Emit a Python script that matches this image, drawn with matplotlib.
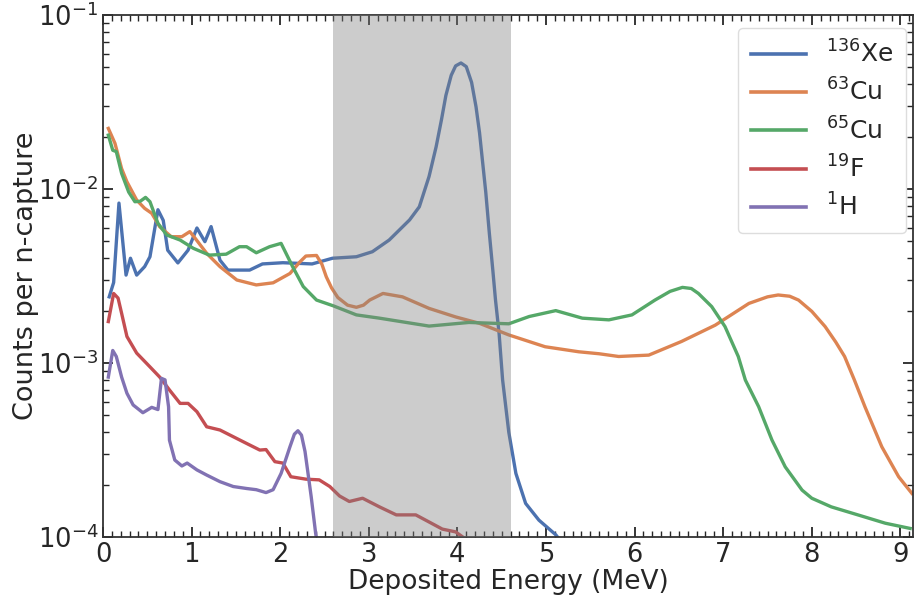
""" Neutron capture deposited energy spectra. """

import numpy as np
import matplotlib
matplotlib.use('Agg')
import matplotlib.pyplot as plt

# 136Xe
xe_e = [0.07, 0.12, 0.18, 0.26, 0.31, 0.38, 0.47, 0.53, 0.62, 0.68, 0.73, 0.845,
        0.96, 1.06, 1.15, 1.22, 1.32, 1.41, 1.655, 1.80, 2.03, 2.36, 2.59, 2.86,
        3.04, 3.23, 3.46, 3.57, 3.68, 3.76, 3.82, 3.87, 3.93, 3.98, 4.04, 4.10,
        4.16, 4.21, 4.25, 4.28, 4.32, 4.36, 4.40, 4.43, 4.47, 4.51, 4.58, 4.66,
        4.77, 4.92, 5.11, 5.20]
xe_c = [2.4e-3, 2.9e-3, 8.3e-3, 3.2e-3, 4.0e-3, 3.2e-3, 3.58e-3, 4.08e-3, 7.6e-3,
        6.6e-3, 4.45e-3, 3.76e-3, 4.45e-3, 5.97e-3, 4.98e-3, 6.08e-3, 3.9e-3,
        3.42e-3, 3.42e-3, 3.71e-3, 3.77e-3, 3.71e-3, 4.0e-3, 4.08e-3, 4.36e-3,
        5.09e-3, 6.64e-3, 7.9e-3, 1.18e-2, 1.75e-2, 2.5e-2, 3.45e-2, 4.5e-2,
        5.1e-2, 5.3e-2, 5.05e-2, 4.1e-2, 2.97e-2, 2.1e-2, 1.5e-2, 9.6e-3,
        5.6e-3, 3.4e-3, 2.3e-3, 1.49e-3, 8.0e-4, 4.0e-4, 2.32e-4, 1.56e-4,
        1.25e-4, 1.03e-4, 9.0e-5]

# 63Cu
cu63_e = [0.06, 0.135, 0.21, 0.27, 0.38, 0.47, 0.55, 0.64, 0.77, 0.89, 0.98, 1.04,
          1.17, 1.32, 1.51, 1.73, 1.92, 2.11, 2.22, 2.29, 2.41, 2.47, 2.52, 2.58,
          2.65, 2.76, 2.86, 2.94, 3.01, 3.16, 3.38, 3.68, 3.98, 4.25, 4.58, 4.99,
          5.37, 5.60, 5.82, 6.16, 6.53, 6.91, 7.29, 7.50, 7.62, 7.75, 7.85, 8.00,
          8.15, 8.27, 8.37, 8.48, 8.60, 8.79, 8.98, 9.13]
cu63_c = [2.23e-2, 1.83e-2, 1.31e-2, 1.1e-2, 8.64e-3, 7.74e-3, 7.25e-3, 6.07e-3,
          5.32e-3, 5.32e-3, 5.69e-3, 5.21e-3, 4.27e-3, 3.58e-3, 3.0e-3, 2.81e-3,
          2.89e-3, 3.27e-3, 3.8e-3, 4.12e-3, 4.15e-3, 3.7e-3, 3.13e-3, 2.7e-3,
          2.38e-3, 2.15e-3, 2.09e-3, 2.15e-3, 2.3e-3, 2.51e-3, 2.4e-3, 2.06e-3,
          1.84e-3, 1.69e-3, 1.45e-3, 1.24e-3, 1.16e-3, 1.13e-3, 1.09e-3, 1.11e-3,
          1.33e-3, 1.65e-3, 2.2e-3, 2.4e-3, 2.46e-3, 2.42e-3, 2.3e-3, 1.98e-3,
          1.62e-3, 1.32e-3, 1.09e-3, 8.0e-4, 5.6e-4, 3.3e-4, 2.22e-4, 1.78e-4]

# 65Cu
cu65_e = [0.06, 0.11, 0.15, 0.21, 0.29, 0.36, 0.42, 0.48, 0.53, 0.62, 0.72, 0.87,
          1.02, 1.20, 1.39, 1.54, 1.62, 1.73, 1.88, 2.01, 2.14, 2.26, 2.41, 2.60,
          2.86, 3.12, 3.68, 4.13, 4.58, 4.81, 5.11, 5.41, 5.71, 5.97, 6.23, 6.40,
          6.54, 6.64, 6.72, 6.87, 7.02, 7.17, 7.25, 7.40, 7.55, 7.70, 7.89, 8.00,
          8.22, 8.52, 8.83, 9.11]
cu65_c = [2.04e-2, 1.67e-2, 1.64e-2, 1.23e-2, 9.6e-3, 8.45e-3, 8.5e-3, 8.95e-3,
          8.45e-3, 6.35e-3, 5.44e-3, 5.09e-3, 4.56e-3, 4.17e-3, 4.22e-3, 4.66e-3,
          4.66e-3, 4.3e-3, 4.66e-3, 4.87e-3, 3.58e-3, 2.75e-3, 2.3e-3, 2.13e-3,
          1.89e-3, 1.81e-3, 1.63e-3, 1.71e-3, 1.68e-3, 1.85e-3, 2.0e-3, 1.81e-3,
          1.77e-3, 1.89e-3, 2.3e-3, 2.58e-3, 2.72e-3, 2.68e-3, 2.51e-3, 2.11e-3,
          1.62e-3, 1.09e-3, 7.98e-4, 5.61e-4, 3.61e-4, 2.53e-4, 1.86e-4, 1.67e-4,
          1.49e-4, 1.34e-4, 1.2e-4, 1.12e-4]

# 19F
f19_e = [0.06, 0.12, 0.17, 0.21, 0.27, 0.38, 0.53, 0.64, 0.75, 0.87, 0.96, 1.06,
         1.17, 1.32, 1.47, 1.62, 1.77, 1.84, 1.94, 2.03, 2.12, 2.29, 2.44, 2.56,
         2.67, 2.78, 2.93, 3.12, 3.31, 3.53, 3.68, 3.83, 3.98, 4.06, 4.12]
f19_c = [1.73e-3, 2.51e-3, 2.36e-3, 1.93e-3, 1.42e-3, 1.14e-3, 9.5e-4, 8.3e-4,
         7.0e-4, 5.86e-4, 5.86e-4, 5.25e-4, 4.3e-4, 4.12e-4, 3.77e-4, 3.45e-4,
         3.16e-4, 3.18e-4, 2.71e-4, 2.66e-4, 2.22e-4, 2.15e-4, 2.13e-4, 1.95e-4,
         1.72e-4, 1.6e-4, 1.67e-4, 1.49e-4, 1.34e-4, 1.34e-4, 1.22e-4, 1.11e-4,
         1.07e-4, 1.0e-4, 9.5e-5]

# 1H
h1_e = [0.06, 0.11, 0.15, 0.21, 0.27, 0.34, 0.45, 0.55, 0.62, 0.66, 0.70, 0.74,
        0.75, 0.81, 0.89, 0.95, 1.06, 1.17, 1.32, 1.47, 1.62, 1.73, 1.84, 1.92,
        2.01, 2.11, 2.16, 2.20, 2.24, 2.28, 2.31, 2.35, 2.40, 2.42]
h1_c = [8.3e-4, 1.18e-3, 1.09e-3, 8.3e-4, 6.7e-4, 5.74e-4, 5.18e-4, 5.56e-4,
        5.4e-4, 8.16e-4, 8.0e-4, 5.6e-4, 3.6e-4, 2.77e-4, 2.56e-4, 2.66e-4,
        2.43e-4, 2.27e-4, 2.08e-4, 1.95e-4, 1.9e-4, 1.87e-4, 1.8e-4, 1.87e-4,
        2.32e-4, 3.3e-4, 3.9e-4, 4.08e-4, 3.85e-4, 3.1e-4, 2.4e-4, 1.7e-4,
        1.05e-4, 9.0e-5]

labels = [r'$^{136}$Xe', r'$^{63}$Cu', r'$^{65}$Cu', r'$^{19}$F', r'$^{1}$H']
colors = ['#4C72B0', '#DD8452', '#55A868', '#C44E52', '#8172B3']
roi = (2.6, 4.6)

plt.rcParams['font.family'] = 'DejaVu Sans'
plt.rcParams['text.color'] = '#262626'
plt.rcParams['axes.labelcolor'] = '#262626'
plt.rcParams['xtick.color'] = '#262626'
plt.rcParams['ytick.color'] = '#262626'

fig = plt.figure(figsize=(9.14, 6.0), dpi=100)
ax = fig.add_axes([0.1127, 0.105, 0.886, 0.87])

series = [(xe_e, xe_c), (cu63_e, cu63_c), (cu65_e, cu65_c), (f19_e, f19_c), (h1_e, h1_c)]
for (e, c), lab, col in zip(series, labels, colors):
    ax.plot(e, c, color=col, lw=2.4, label=lab, solid_joinstyle='round')

# region of interest band on top of the lines
ax.axvspan(roi[0], roi[1], color='gray', alpha=0.4, lw=0, zorder=3)

ax.set_yscale('log')
ax.set_xlim(0, 9.14)
ax.set_ylim(1e-4, 1e-1)
ax.set_xticks(np.arange(0, 10, 1))
ax.xaxis.set_minor_locator(matplotlib.ticker.MultipleLocator(0.1))

for s in ax.spines.values():
    s.set_color('#333333')
    s.set_linewidth(1.3)
ax.tick_params(which='both', direction='in', top=True, right=True, labelsize=18.5)
ax.tick_params(which='major', length=7, width=1.3)
ax.tick_params(which='minor', length=4, width=1.0)

ax.set_xlabel('Deposited Energy (MeV)', fontsize=19, labelpad=1)
ax.set_ylabel('Counts per n-capture', fontsize=19.5, labelpad=-1)

leg = ax.legend(loc='upper right', bbox_to_anchor=(0.9914, 0.975), fontsize=18,
                handlelength=2.2, handletextpad=0.8, labelspacing=0.44,
                borderpad=0.5, borderaxespad=0.0, framealpha=1.0)
leg.get_frame().set_edgecolor('#dddddd')
for line in leg.get_lines():
    line.set_linewidth(2.6)

fig.savefig('out.png', dpi=100)
